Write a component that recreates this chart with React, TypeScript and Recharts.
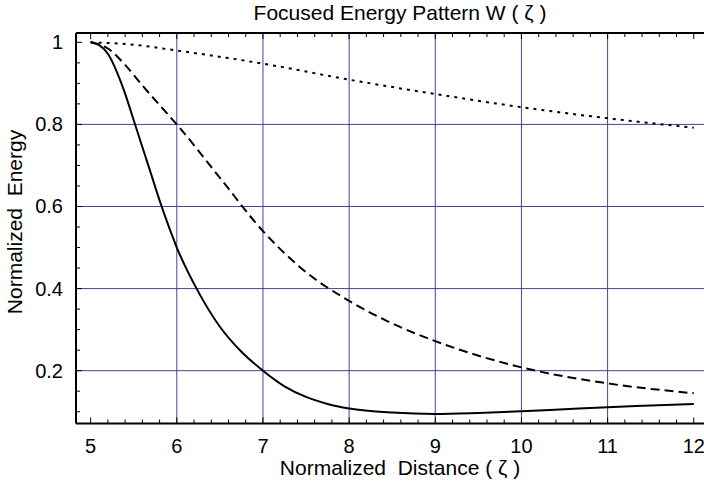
import React from 'react';
import { LineChart, Line, XAxis, YAxis, ReferenceLine } from 'recharts';

// solid curve
const solidX = [5, 5.1, 5.2, 5.3, 5.4, 5.5, 5.6, 5.7, 5.8, 5.9, 6, 6.25, 6.5, 6.75, 7, 7.25, 7.5, 7.75, 8, 8.5, 9, 9.5, 10, 10.5, 11, 11.5, 12];
const solidY = [1, 0.993, 0.972, 0.93, 0.875, 0.81, 0.745, 0.68, 0.615, 0.555, 0.5, 0.392, 0.307, 0.246, 0.2, 0.162, 0.136, 0.119, 0.108, 0.098, 0.0945, 0.097, 0.101, 0.106, 0.111, 0.115, 0.119];

// dashed curve
const dashedX = [5, 5.2, 5.4, 5.6, 5.8, 6, 6.5, 7, 7.5, 8, 8.5, 9, 10, 11, 12];
const dashedY = [1, 0.985, 0.945, 0.895, 0.847, 0.8, 0.67, 0.54, 0.44, 0.37, 0.315, 0.272, 0.208, 0.169, 0.145];

// dotted curve
const dottedX = [5, 5.5, 6, 7, 8, 9, 10, 11, 12];
const dottedY = [1, 0.994, 0.98, 0.948, 0.909, 0.874, 0.842, 0.815, 0.792];

const xTicks = [5, 6, 7, 8, 9, 10, 11, 12];
const yTicks = [0.2, 0.4, 0.6, 0.8, 1];
const xGrid = [6, 7, 8, 9, 10, 11];
const yGrid = [0.2, 0.4, 0.6, 0.8];

const xMinor: number[] = [];
for (let i = 0; i <= 35; i++) xMinor.push(Math.round((5 + i * 0.2) * 10) / 10);
const yMinor: number[] = [];
for (let i = 0; i <= 18; i++) yMinor.push(Math.round((0.1 + i * 0.05) * 100) / 100);

const pts = (xs: number[], ys: number[]) => xs.map((x, i) => ({ x, y: ys[i] }));

const FONT = '"Liberation Sans", Arial, Helvetica, sans-serif';
const GRID = '#4f3f96';

const isMajor = (v: number, majors: number[]) => majors.some((m) => Math.abs(m - v) < 1e-6);

const BottomTick = (props: any) => {
  const { x, y, payload } = props;
  const major = isMajor(payload.value, xTicks);
  return (
    <g>
      <line x1={x} x2={x} y1={y} y2={y - (major ? 6 : 4)} stroke="#000" strokeWidth={1} />
      {major && (
        <text x={x} y={y + 29} textAnchor="middle" fontSize={20} fontFamily={FONT} fill="#000">
          {payload.value}
        </text>
      )}
    </g>
  );
};

const TopTick = (props: any) => {
  const { x, y, payload } = props;
  const major = isMajor(payload.value, xTicks);
  return <line x1={x} x2={x} y1={y} y2={y + (major ? 6 : 4)} stroke="#000" strokeWidth={1} />;
};

const LeftTick = (props: any) => {
  const { x, y, payload } = props;
  const major = isMajor(payload.value, yTicks);
  return (
    <g>
      <line x1={x} x2={x + (major ? 6 : 4)} y1={y} y2={y} stroke="#000" strokeWidth={1} />
      {major && (
        <text x={x - 13} y={y + 7} textAnchor="end" fontSize={20} fontFamily={FONT} fill="#000">
          {payload.value}
        </text>
      )}
    </g>
  );
};

const labelStyle: React.CSSProperties = { fontFamily: FONT, fontSize: 21, lineHeight: '26px', whiteSpace: 'pre' };

export default function App() {
  return (
    <div style={{ position: 'fixed', left: 0, top: 0, width: 704, height: 489, overflow: 'hidden', background: '#fff' }}>
      <LineChart width={730} height={489} margin={{ top: 23, right: 19, bottom: 25.5, left: 16 }}>
        <XAxis
          dataKey="x"
          type="number"
          domain={[4.83, 12.2]}
          ticks={xMinor}
          interval={0}
          allowDataOverflow
          height={40}
          tickSize={0}
          tickMargin={0}
          tickLine={false}
          axisLine={{ stroke: '#000', strokeWidth: 2 }}
          tick={<BottomTick />}
        />
        <XAxis
          xAxisId="top"
          orientation="top"
          dataKey="x"
          type="number"
          domain={[4.83, 12.2]}
          ticks={xMinor}
          interval={0}
          allowDataOverflow
          height={10}
          tickSize={0}
          tickMargin={0}
          tickLine={false}
          axisLine={{ stroke: '#000', strokeWidth: 2 }}
          tick={<TopTick />}
        />
        <YAxis
          type="number"
          domain={[0.0713, 1.0227]}
          ticks={yMinor}
          interval={0}
          allowDataOverflow
          width={60}
          tickSize={0}
          tickMargin={0}
          tickLine={false}
          axisLine={{ stroke: '#000', strokeWidth: 2 }}
          tick={<LeftTick />}
        />
        {xGrid.map((v) => (
          <ReferenceLine key={'gx' + v} x={v} stroke={GRID} strokeWidth={1} />
        ))}
        {yGrid.map((v) => (
          <ReferenceLine key={'gy' + v} y={v} stroke={GRID} strokeWidth={1} />
        ))}
        <Line
          data={pts(dottedX, dottedY)}
          dataKey="y"
          type="monotone"
          stroke="#000"
          strokeWidth={2}
          strokeDasharray="3 5"
          dot={false}
          isAnimationActive={false}
        />
        <Line
          data={pts(dashedX, dashedY)}
          dataKey="y"
          type="monotone"
          stroke="#000"
          strokeWidth={2}
          strokeDasharray="9 5"
          dot={false}
          isAnimationActive={false}
        />
        <Line
          data={pts(solidX, solidY)}
          dataKey="y"
          type="monotone"
          stroke="#000"
          strokeWidth={2}
          dot={false}
          isAnimationActive={false}
        />
      </LineChart>
      <div style={{ ...labelStyle, position: 'absolute', left: 0, width: 800, top: 0, textAlign: 'center' }}>
        {'Focused Energy Pattern W ( ζ )'}
      </div>
      <div style={{ ...labelStyle, position: 'absolute', left: 0, width: 800, top: 455, textAlign: 'center' }}>
        {'Normalized  Distance ( ζ )'}
      </div>
      <div
        style={{
          ...labelStyle,
          position: 'absolute',
          left: 15,
          top: 222,
          transform: 'translate(-50%, -50%) rotate(-90deg)',
        }}
      >
        {'Normalized  Energy'}
      </div>
    </div>
  );
}
